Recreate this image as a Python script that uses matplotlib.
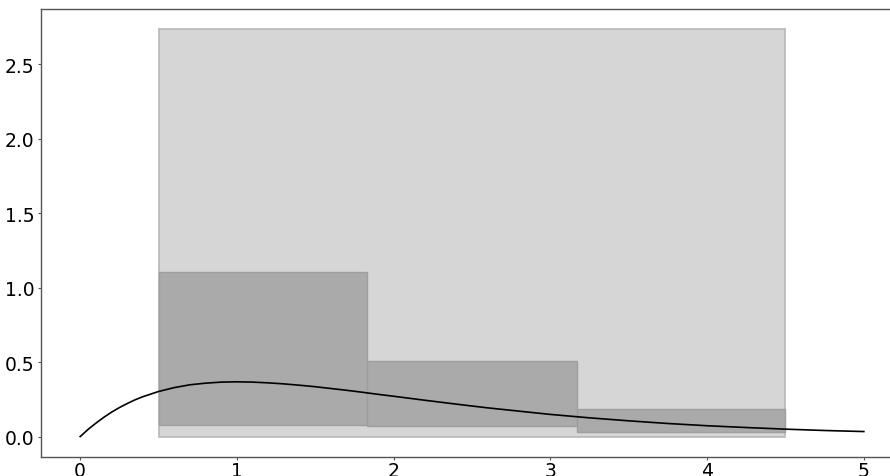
import matplotlib
matplotlib.use("Agg")
import matplotlib.pyplot as plt
from matplotlib.patches import Rectangle

# Curve points
curve_x = [0, 0.05, 0.1, 0.15, 0.2, 0.25, 0.3, 0.35, 0.4, 0.5, 0.6, 0.7, 0.8, 0.9, 1.0,
           1.1, 1.2, 1.3, 1.4, 1.5, 1.6, 1.7, 1.8, 1.9, 2.0, 2.2, 2.4, 2.6, 2.8, 3.0,
           3.25, 3.5, 3.75, 4.0, 4.25, 4.5, 4.75, 5.0]
curve_y = [0.0, 0.048, 0.090, 0.129, 0.164, 0.195, 0.222, 0.247, 0.268, 0.303, 0.329,
           0.348, 0.359, 0.366, 0.368, 0.366, 0.361, 0.354, 0.345, 0.335, 0.323, 0.311,
           0.298, 0.284, 0.271, 0.244, 0.218, 0.193, 0.171, 0.149, 0.126, 0.106, 0.088,
           0.073, 0.061, 0.050, 0.041, 0.034]

# Outer (light) box
outer_x = [0.5, 4.5]
outer_y = [0.0, 2.735]

# Inner (dark) boxes: left edge, right edge, bottom, top
box_left = [0.5, 1.833, 3.167]
box_right = [1.833, 3.167, 4.5]
box_bottom = [0.076, 0.070, 0.028]
box_top = [1.108, 0.505, 0.188]

fig = plt.figure(figsize=(8.9, 4.77), dpi=100)
ax = fig.add_axes([41/890, 1-458/477, (903-41)/890, (458-10)/477])

ax.add_patch(Rectangle((outer_x[0], outer_y[0]), outer_x[1]-outer_x[0], outer_y[1]-outer_y[0],
                       facecolor='#d6d6d6', edgecolor='#b8b8b8', linewidth=1.2, zorder=1))
for l, r, b, t in zip(box_left, box_right, box_bottom, box_top):
    ax.add_patch(Rectangle((l, b), r-l, t-b, facecolor='#aaaaaa', edgecolor='#9e9e9e',
                           linewidth=1.0, zorder=2))

ax.plot(curve_x, curve_y, color='black', linewidth=1.2, zorder=3)

ax.set_xlim(-0.25, 5.25)
ax.set_ylim(-0.137, 2.872)
ax.set_xticks([0, 1, 2, 3, 4, 5])
ax.set_yticks([0.0, 0.5, 1.0, 1.5, 2.0, 2.5])
ax.set_yticklabels(['0.0', '0.5', '1.0', '1.5', '2.0', '2.5'])
for s in ax.spines.values():
    s.set_color('#555555')
    s.set_linewidth(1.0)
ax.tick_params(colors='#555555', labelcolor='black', labelsize=13.5, length=2.5, pad=2)
ax.tick_params(axis='x', pad=0.5)

fig.savefig('out.png', dpi=100)
